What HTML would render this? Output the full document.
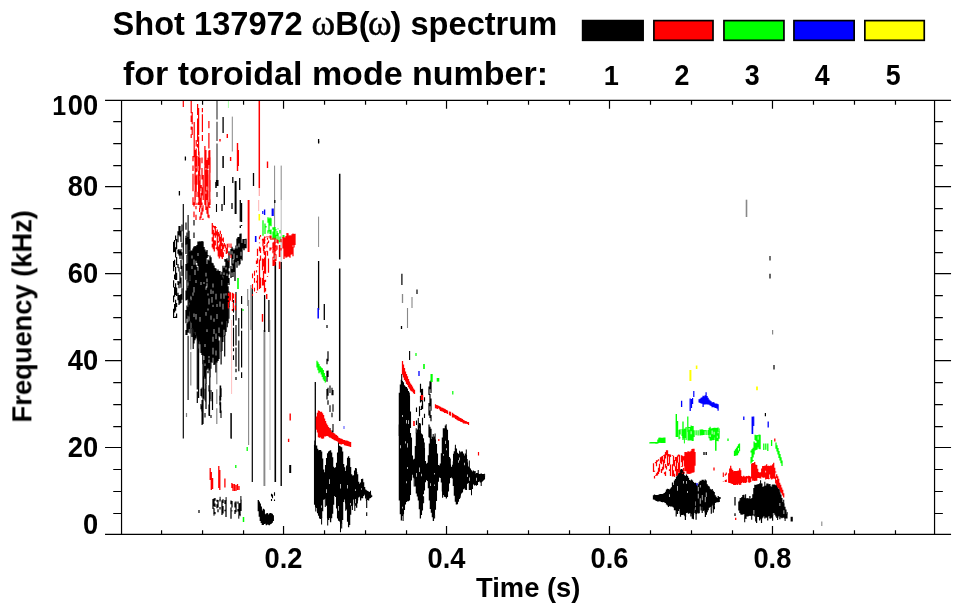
<!DOCTYPE html>
<html lang="en"><head><meta charset="utf-8"><title>Shot 137972 spectrum</title>
<style>
html,body{margin:0;padding:0;background:#fff;}
body{width:963px;height:615px;overflow:hidden;}
svg{display:block;}
</style></head>
<body>
<svg width="963" height="615" viewBox="0 0 963 615">
<rect width="963" height="615" fill="#fff"/>
<path d="M270.0 320.0V470.0M281.2 200.0V262.0" stroke="#bbb" stroke-width="1.0" fill="none"/>
<path d="M232.3 116.6V151.5M281.2 165.6V200.0M274.6 165.6V262.0M318.6 216.6V247.0" stroke="#888" stroke-width="1.0" fill="none"/>
<path d="M248.6 300.0V445.0M250.9 285.0V330.0M247.7 289.0V306.0M399.0 424.5V436.0M412.0 297.0V308.0M407.5 308.0V328.0M821.8 521.6V526.0" stroke="#888" stroke-width="1.1" fill="none"/>
<path d="M190.8 320.0V349.4M190.8 352.1V385.5M216.8 362.0V384.3M216.8 389.2V404.1M216.8 408.2V424.0M772.6 330.0V334.6" stroke="#888" stroke-width="1.2" fill="none"/>
<path d="M402.5 294.0V303.0" stroke="#888" stroke-width="1.3" fill="none"/>
<path d="M746.5 199.7V217.0" stroke="#888" stroke-width="1.6" fill="none"/>
<path d="M264.4 330.0V486.0" stroke="#888" stroke-width="1.9" fill="none"/>
<path d="M214.0 513.2V515.7M220.1 496.8V499.8M226.1 497.1V501.0M235.1 501.7V503.8M238.8 515.4V518.7M240.1 514.4V516.2M240.9 496.0V500.2" stroke="#000" stroke-width="1.0" fill="none"/>
<path d="M314.8 440.6V445.3M315.8 506.8V511.4M321.6 517.5V524.5M325.3 498.2V506.9M327.7 518.0V525.6M338.5 442.3V449.2M340.5 523.4V532.3M341.7 523.3V528.4M345.7 503.1V510.7M352.4 505.0V510.1M354.8 502.9V511.0M356.4 468.6V472.4M357.4 499.9V503.6M366.4 497.3V500.9M370.5 490.7V494.2M401.7 374.1V380.3M403.1 513.7V520.9M409.3 392.6V395.9M414.2 478.2V486.6M416.2 428.2V433.3M418.3 418.1V426.1M420.4 423.6V431.3M423.6 496.5V503.2M424.3 442.5V448.5M433.2 433.9V438.1M434.6 515.2V518.6M435.1 433.5V440.1M442.6 491.0V497.8M446.2 424.2V428.7M450.3 458.5V464.8M452.6 464.7V467.4M453.5 453.8V461.8M455.4 444.7V448.9M459.6 450.7V454.9M460.2 495.0V497.7M464.5 455.6V458.8M466.3 449.4V455.5M467.2 459.1V462.8M469.3 460.6V467.9M471.5 489.5V495.3M474.5 483.5V485.5M475.1 470.9V474.4M478.2 470.1V474.2M481.2 481.8V485.9M484.6 473.8V476.6M740.2 497.9V500.9M744.7 517.8V522.3M745.6 494.2V498.5M751.7 515.3V519.7M756.2 516.4V521.8M760.6 480.3V483.8M764.8 481.7V486.4M772.2 484.8V487.6M777.6 517.0V519.9M779.9 488.0V492.8M783.7 499.8V503.9M785.1 518.2V521.1M787.1 512.0V514.3" stroke="#000" stroke-width="1.04" fill="none"/>
<path d="M217.0 100.5V119.6M217.0 121.7V141.0M217.0 143.6V184.0" stroke="#000" stroke-width="1.05" stroke-opacity="0.85" fill="none"/>
<path d="M217.0 192.0V197.0M216.5 204.0V212.0M188.1 215.0V282.6M188.1 285.7V332.8M188.1 335.8V400.0M233.5 300.0V312.4M233.5 315.0V325.7M233.5 327.7V346.4M233.5 348.2V351.2M233.5 355.2V360.0M238.8 318.0V336.2M238.8 340.6V371.2M201.0 388.7V395.9M201.0 403.9V409.3M202.0 387.5V397.6M202.0 405.4V411.5M205.0 388.8V400.6M205.0 412.9V417.5M209.0 385.3V391.6M209.0 404.5V415.7M211.0 390.0V401.2M211.0 415.0V418.0M220.0 395.7V405.3M221.0 388.3V397.1M221.0 410.6V418.0M271.5 493.7V496.6M271.5 499.0V501.0M272.5 494.5V498.2M274.5 492.3V495.7M274.5 499.5V501.0M330.0 385.4V393.1M330.0 405.2V411.9M330.0 428.1V437.6M332.0 387.7V395.2M332.0 412.8V417.3M332.0 430.4V436.8M333.0 389.9V395.3M333.0 404.3V411.7M333.0 424.1V432.4M366.7 500.0V508.0M366.7 512.3V516.0M409.6 351.0V360.0M770.0 256.0V260.5" stroke="#000" stroke-width="1.1" fill="none"/>
<path d="M183.3 204.0V438.5M186.0 222.4V229.7M186.0 235.8V244.8M194.0 219.9V225.6M194.0 232.6V237.9M194.0 246.4V250.0M416.5 407.4V412.1M416.5 420.4V425.1M419.5 406.3V416.2M419.5 422.9V428.8M422.5 403.9V408.4M422.5 417.8V425.3M424.5 397.2V401.6M424.5 413.8V417.9" stroke="#000" stroke-width="1.15" fill="none"/>
<path d="M186.5 413.0V417.0" stroke="#000" stroke-width="1.2" stroke-opacity="0.5" fill="none"/>
<path d="M241.6 203.0V221.9M241.6 225.0V226.0M173.6 241.7V252.3M173.6 260.9V271.2M173.6 280.3V287.6M173.6 295.5V302.2M173.6 308.7V318.0M174.6 239.9V252.0M174.6 259.7V266.9M174.6 274.5V279.3M174.6 287.0V296.7M174.6 304.0V312.5M174.6 317.1V318.0M175.6 235.6V240.5M175.6 247.3V257.5M175.6 267.0V279.9M175.6 283.3V295.0M175.6 299.8V310.8M175.6 316.5V318.0M176.6 238.9V249.3M176.6 257.1V264.9M176.6 272.7V280.1M176.6 287.4V296.0M176.6 302.9V307.1M176.6 313.6V318.0M178.0 231.2V242.2M178.0 249.8V253.7M178.0 263.9V268.1M178.0 281.0V285.1M178.0 292.7V300.2M179.0 225.9V235.3M179.0 249.1V255.4M179.0 267.3V271.6M179.0 281.4V288.3M179.0 295.1V305.0M180.0 226.1V236.5M180.0 250.4V258.9M180.0 271.6V283.5M180.0 294.9V303.7M181.0 230.7V242.1M181.0 249.1V255.6M181.0 259.9V269.1M181.0 277.6V287.8M181.0 294.1V303.0M182.0 224.6V231.3M182.0 242.7V247.4M182.0 252.3V259.5M182.0 265.8V276.0M182.0 288.2V299.7M186.0 237.9V254.1M186.0 264.0V279.8M186.0 290.4V300.6M186.0 310.0V323.2M186.0 329.9V335.0M187.0 232.4V244.3M187.0 255.1V270.7M187.0 280.1V299.9M187.0 305.6V318.8M187.0 323.5V335.0M188.0 237.1V255.2M188.0 263.3V280.4M188.0 288.0V298.9M188.0 307.0V315.7M188.0 322.2V332.4M189.0 230.7V249.9M189.0 255.0V274.5M189.0 285.4V300.4M189.0 307.8V316.6M189.0 321.5V328.9M190.0 239.1V252.6M190.0 264.5V280.6M190.0 285.8V299.5M190.0 304.8V311.4M190.0 322.9V333.6M188.9 302.1V310.8M189.8 320.8V323.3M191.9 327.9V336.9M193.2 329.3V349.0M194.0 333.3V343.4M194.9 331.4V340.2M195.9 334.9V338.6M198.1 337.5V340.4M198.8 341.0V352.7M202.8 354.4V364.3M203.8 376.3V398.7M205.8 383.8V402.0M209.8 376.8V399.1M210.9 361.5V368.8M215.9 361.9V372.6M221.1 350.9V364.4M222.0 336.7V351.0M222.9 336.4V342.1M224.7 335.0V356.4M227.2 320.6V327.2M228.9 306.6V318.7M197.3 320.0V389.6M197.3 391.5V403.0M198.6 330.0V343.7M198.6 348.6V398.0M203.0 360.0V424.0M209.5 390.0V416.0M212.5 392.0V410.0M206.0 385.0V409.0M236.0 292.0V320.6M236.0 324.9V345.6M236.0 347.4V366.7M236.0 368.8V372.2M236.0 376.9V380.0M241.6 296.0V304.0M241.6 308.2V328.6M241.6 330.7V367.5M241.6 372.3V378.0M202.1 400.0V425.0M252.3 288.0V482.0M199.0 510.0V513.0M318.6 141.0V142.5M327.0 325.0V328.0M327.0 358.7V364.2M327.0 370.7V381.7M327.0 388.9V399.6M328.0 351.2V361.3M328.0 370.6V376.9M328.0 387.8V395.7M328.0 400.2V404.7M420.5 383.8V392.4M420.5 396.1V402.6M420.5 409.2V410.0M421.5 389.0V401.5M421.5 405.8V410.0M422.5 388.8V395.4M422.5 400.2V409.0M429.0 386.6V395.1M429.0 403.0V415.6M429.0 424.5V437.3M430.0 381.2V389.3M430.0 394.0V406.3M430.0 410.5V418.1M430.0 426.8V438.0M431.0 380.5V392.9M431.0 398.6V410.8M431.0 414.9V421.2M431.0 428.8V438.0M401.9 273.7V285.0M417.0 289.6V294.0M676.2 502.2V510.9M676.2 510.4V516.4M677.2 501.6V510.9M677.5 510.4V514.0M680.2 502.1V513.9M680.5 513.4V516.8M685.2 502.0V514.6M685.4 514.1V519.9M690.2 501.6V512.9M691.2 501.1V513.3M690.9 512.8V516.5M692.2 501.2V513.4M692.3 512.9V518.7M693.2 500.7V512.9M693.4 512.4V519.2M694.2 501.2V513.1M696.2 501.3V513.3M696.1 512.8V519.8M702.2 501.2V513.0M705.2 502.9V511.5M705.4 511.0V516.9M706.2 502.0V512.1M706.4 511.6V514.8M711.2 502.1V510.0M711.3 509.5V513.8M713.2 502.3V508.0M713.3 507.5V512.7M714.2 502.4V507.0M714.4 506.5V509.2M755.8 502.2V515.9M755.8 515.4V521.3M756.8 501.2V516.7M756.6 516.2V522.9M759.8 501.9V515.8M759.6 515.3V520.5M761.8 501.8V517.3M761.5 516.8V522.9M767.8 501.3V514.8M767.7 514.3V520.6M770.8 501.5V514.8M770.8 514.3V518.5M772.8 502.2V515.7M772.6 515.2V520.7M770.0 273.7V278.4M774.0 365.0V369.6M765.4 413.0V416.3" stroke="#000" stroke-width="1.2" fill="none"/>
<path d="M213.0 499.1V508.9M214.0 498.4V506.3M214.0 508.3V513.7M215.0 498.1V500.7M215.0 503.5V507.0M215.0 511.9V514.3M217.0 499.8V501.8M217.0 504.3V508.2M218.0 499.9V507.5M218.0 509.3V512.3M220.0 499.3V501.6M220.0 506.9V509.6M222.0 500.3V514.9M223.0 499.3V503.0M223.0 506.0V513.5M225.0 500.1V504.0M225.0 509.8V511.3M226.0 500.5V517.0M231.0 500.6V504.3M231.0 507.4V518.8M232.0 501.0V507.4M232.0 510.5V511.2M235.0 503.3V507.6M235.0 510.0V514.0M236.0 501.4V512.2M238.0 501.5V503.8M238.0 508.9V511.4M239.0 503.4V515.8M240.0 503.0V514.9M241.0 499.7V511.1M735.0 497.1V505.6M735.0 513.2V516.0" stroke="#000" stroke-width="1.25" fill="none"/>
<path d="M223.1 117.0V133.0M239.7 178.0V190.0M253.5 173.0V186.0M318.6 139.0V143.5M185.4 156.5V160.6M179.4 191.0V195.5M232.8 177.0V183.0M222.0 204.0V211.0M232.0 203.0V209.0M274.8 200.0V203.0M240.3 200.0V221.8M240.3 225.5V228.0M223.0 265.7V276.5M223.0 279.1V292.6M224.0 267.8V272.5M224.0 275.0V292.1M225.0 259.0V261.7M225.0 265.8V289.3M226.0 259.3V267.2M226.0 269.5V288.4M227.0 258.3V273.4M227.0 276.1V285.4M228.0 260.5V283.1M229.0 251.2V268.2M229.0 271.2V274.4M229.0 278.0V284.9M231.0 249.0V255.3M231.0 266.1V278.1M232.0 246.8V251.3M232.0 254.4V265.6M232.0 269.1V272.5M232.0 275.9V276.6M233.0 248.5V259.1M233.0 263.4V276.9M234.0 249.9V253.5M234.0 259.4V272.0M235.0 248.6V281.1M236.0 245.4V262.2M237.0 238.6V245.7M237.0 248.5V255.3M237.0 257.9V267.7M238.0 236.9V260.9M239.0 237.1V243.6M239.0 247.2V265.6M240.0 233.8V264.2M241.0 233.6V251.7M241.0 255.7V259.1M242.0 243.1V260.5M243.0 239.0V248.5M244.0 239.0V250.2M245.0 238.9V239.8M245.0 244.0V248.2M246.0 238.7V248.3M231.0 413.0V438.0M264.6 295.0V332.0M268.9 300.0V332.0M258.3 500.0V511.2M259.3 501.6V516.8M260.3 503.5V520.9M261.3 506.4V523.0M262.3 510.5V525.0M263.3 508.8V524.9M264.3 509.4V524.0M265.3 514.2V523.8M266.3 513.6V525.2M267.3 512.9V524.6M268.3 514.6V524.8M269.3 513.6V525.2M270.3 512.9V524.3M271.3 513.3V523.7M272.3 513.8V522.7M273.3 515.3V520.9M231.2 413.6V438.7M315.3 382.0V502.0M318.6 261.0V310.0M324.3 304.0V320.0M314.6 444.8V504.8M315.6 446.9V488.9M315.6 493.5V507.3M316.6 445.4V508.1M317.6 448.7V513.3M318.6 450.3V515.7M319.6 450.1V518.5M320.6 450.1V519.1M321.6 451.4V505.6M321.6 507.7V518.0M322.6 458.4V511.3M323.6 469.4V499.8M324.6 472.3V499.3M325.6 465.0V498.7M326.6 457.9V489.2M326.6 493.1V505.8M327.6 453.2V518.5M328.6 451.5V520.1M329.6 450.8V479.3M329.6 484.0V518.1M330.6 450.2V522.3M331.6 452.5V518.2M332.6 457.3V513.8M333.6 466.7V504.7M334.6 468.0V496.1M335.6 467.2V497.1M336.6 462.8V508.5M337.6 452.5V518.5M338.6 448.7V506.1M338.6 510.8V520.7M339.6 445.7V521.5M340.6 446.6V484.0M340.6 488.4V523.9M341.6 447.3V523.8M342.6 451.5V519.9M343.6 463.9V502.1M344.6 467.3V499.6M345.6 470.9V503.6M346.6 465.6V509.6M347.6 457.7V484.9M347.6 488.5V521.8M348.6 456.2V527.3M349.6 458.0V525.0M350.6 467.1V502.9M350.6 505.2V514.7M351.6 474.2V505.9M352.6 475.4V505.5M353.6 475.3V499.5M354.6 470.5V503.4M355.6 467.9V489.3M355.6 490.9V499.1M355.6 503.2V505.7M356.6 471.9V507.8M357.6 474.2V500.4M358.6 481.8V497.4M359.6 483.8V496.8M360.6 482.5V500.4M361.6 478.9V488.3M361.6 489.8V498.3M362.6 478.7V498.2M363.6 482.3V496.1M364.6 486.9V494.7M365.6 489.5V498.4M366.6 490.3V497.8M367.6 490.9V499.9M368.6 491.6V500.5M369.6 492.0V498.4M370.6 493.7V498.1M371.6 495.3V497.1M399.4 392.8V500.5M400.4 384.4V445.2M400.4 448.2V514.2M401.4 379.8V520.4M402.4 380.8V414.9M402.4 416.9V506.8M402.4 508.6V516.0M403.4 382.3V514.2M404.4 385.2V510.1M405.4 386.6V441.2M405.4 443.4V504.6M406.4 387.0V420.1M406.4 423.6V481.3M406.4 483.3V502.0M407.4 388.4V443.3M407.4 447.4V467.0M407.4 469.1V501.2M408.4 390.9V420.3M408.4 423.9V501.2M409.4 395.4V500.6M410.4 411.6V428.1M410.4 433.0V495.0M411.4 437.6V480.5M412.4 455.5V474.7M413.4 459.4V477.7M414.4 458.7V478.7M415.4 446.1V486.6M416.4 432.8V473.0M416.4 476.7V493.5M417.4 429.4V496.4M418.4 425.6V500.6M419.4 429.3V467.4M419.4 472.1V509.2M420.4 430.8V518.4M421.4 433.5V473.8M421.4 476.2V515.1M422.4 434.4V510.4M423.4 438.3V494.3M423.4 496.4V497.0M424.4 448.0V490.4M425.4 461.0V482.3M426.4 463.7V480.1M427.4 462.8V481.0M428.4 455.3V488.2M429.4 443.4V500.5M430.4 435.7V483.2M430.4 486.0V508.9M431.4 438.5V512.7M432.4 436.8V517.3M433.4 437.6V521.1M434.4 436.5V472.9M434.4 474.5V484.4M434.4 486.0V515.7M435.4 439.6V509.8M436.4 443.9V501.0M437.4 453.5V490.6M438.4 464.9V481.8M439.4 465.4V477.6M440.4 463.6V478.0M441.4 453.2V482.6M442.4 437.5V491.5M443.4 428.2V454.0M443.4 455.8V494.9M444.4 428.3V496.7M445.4 425.5V440.7M445.4 444.1V496.9M446.4 428.2V448.2M446.4 450.3V498.6M447.4 429.8V497.1M448.4 440.3V491.5M449.4 457.0V483.4M450.4 464.3V477.9M451.4 466.8V477.6M452.4 466.9V478.4M453.4 461.3V486.0M454.4 451.3V495.7M455.4 448.4V501.7M456.4 448.6V504.4M457.4 452.8V504.3M458.4 453.7V460.3M458.4 462.8V501.7M459.4 454.4V457.4M459.4 460.4V498.9M460.4 452.3V495.5M461.4 451.5V493.4M462.4 451.6V492.5M463.4 453.6V489.3M464.4 458.3V462.8M464.4 465.2V488.5M465.4 453.4V489.7M466.4 455.0V490.0M467.4 462.3V474.5M467.4 477.1V483.7M468.4 466.5V483.1M469.4 467.4V477.4M469.4 480.7V490.1M470.4 468.6V490.0M471.4 470.2V490.0M472.4 471.4V489.0M473.4 470.6V484.6M474.4 471.3V484.0M475.4 473.9V485.0M476.4 472.9V477.7M476.4 480.8V485.8M477.4 473.1V484.9M478.4 473.7V482.1M479.4 474.0V481.4M480.4 473.8V482.6M481.4 473.6V482.3M482.4 473.9V481.5M483.4 473.9V480.5M484.4 476.1V479.4M401.5 326.0V329.0M653.5 495.2V499.4M654.5 494.6V499.8M655.5 495.1V500.6M656.5 495.1V501.0M657.5 494.9V501.6M658.5 494.8V501.5M659.5 494.2V501.3M660.5 494.0V501.5M661.5 494.0V502.0M662.5 493.9V502.2M663.5 493.6V502.1M664.5 492.9V502.4M665.5 491.8V503.1M666.5 489.6V504.5M667.5 488.7V505.4M668.5 488.9V507.1M669.5 489.6V494.2M669.5 497.1V506.0M670.5 488.5V506.5M671.5 487.3V506.4M672.5 482.5V506.7M673.5 485.0V507.5M674.5 480.4V510.2M675.5 478.9V510.2M676.5 476.6V510.7M677.5 475.3V486.0M677.5 490.7V510.7M678.5 473.2V511.1M679.5 470.8V509.1M680.5 469.6V513.6M681.5 468.9V514.9M682.5 469.4V514.9M683.5 471.5V480.9M683.5 483.5V514.7M684.5 475.2V515.8M685.5 475.9V517.0M686.5 474.6V481.1M686.5 483.8V513.0M687.5 475.9V491.0M687.5 492.9V512.8M688.5 477.7V513.7M689.5 480.1V513.3M690.5 480.5V512.4M691.5 479.5V513.9M692.5 480.6V514.3M693.5 481.9V514.9M694.5 483.0V508.4M695.5 482.8V501.6M695.5 505.7V506.9M695.5 509.8V513.5M696.5 484.5V513.9M697.2 486.6V512.7M698.2 484.3V487.1M698.2 491.3V493.8M698.2 498.5V513.4M699.2 482.3V513.3M700.2 480.8V485.1M700.2 487.5V498.3M700.2 503.7V506.6M701.2 480.7V510.4M702.2 479.8V495.0M702.2 500.3V506.9M703.2 479.7V511.0M704.2 480.7V510.3M705.2 479.6V496.9M705.2 502.3V512.6M706.2 480.5V492.4M706.2 497.1V512.2M707.2 484.2V512.3M708.2 485.8V510.2M709.2 486.5V507.8M710.2 488.7V507.0M711.2 489.7V506.6M712.2 489.1V505.4M713.2 490.7V503.7M714.2 491.9V504.9M715.2 495.2V503.0M716.2 496.7V502.6M717.2 498.1V502.2M718.2 496.1V502.2M719.2 496.9V502.1M720.2 497.3V498.8M738.9 501.5V510.6M739.9 500.4V513.1M740.9 497.9V514.4M741.9 497.0V514.8M742.9 495.1V514.6M743.9 494.8V514.1M744.9 497.7V518.3M745.9 498.0V518.9M746.9 498.4V516.5M747.9 498.1V516.5M748.9 498.7V516.1M749.9 496.1V515.7M750.9 499.0V516.0M751.9 498.1V515.8M752.9 494.3V515.4M753.9 488.0V509.9M753.9 514.5V515.6M754.9 484.7V516.6M755.9 484.9V514.9M756.9 484.6V516.8M757.9 484.3V517.0M758.9 484.0V516.9M759.9 483.2V519.4M760.9 483.3V518.8M761.9 483.6V518.6M762.9 487.0V517.5M763.9 486.3V516.2M764.9 485.9V518.5M765.9 485.4V517.6M766.9 483.5V517.7M767.9 483.6V516.8M768.9 484.2V516.1M769.9 484.0V518.6M770.9 486.3V517.7M771.9 487.1V517.7M772.9 484.5V512.9M773.9 484.4V513.1M774.9 484.5V514.7M775.9 485.3V516.5M776.9 484.7V518.0M777.9 485.7V517.5M778.9 489.0V516.2M779.9 492.3V503.1M779.9 505.9V519.2M780.9 494.4V517.4M781.9 498.1V518.2M782.9 501.9V517.8M783.9 503.4V510.2M783.9 514.1V517.7M784.9 506.7V518.7M785.9 509.5V518.5M786.9 513.8V518.6M704.0 452.0V455.0M706.2 452.0V455.0" stroke="#000" stroke-width="1.3" fill="none"/>
<path d="M189.0 249.9V302.6M190.0 251.4V275.2M190.0 280.7V295.7M190.0 299.1V321.3M191.0 250.6V296.6M191.0 300.2V322.8M192.0 250.5V255.4M192.0 258.4V266.1M192.0 268.9V328.4M193.0 248.5V292.6M193.0 295.7V329.8M194.0 247.2V259.4M194.0 264.8V287.1M194.0 292.5V313.6M194.0 317.0V333.8M195.0 246.1V269.8M195.0 275.1V331.9M196.0 246.3V260.7M196.0 264.7V280.1M196.0 283.0V314.1M196.0 319.6V335.4M197.0 245.0V263.1M197.0 267.1V336.7M198.0 241.4V253.0M198.0 256.0V266.0M198.0 270.8V338.0M199.0 241.4V341.5M200.0 241.3V316.9M200.0 321.7V344.2M201.0 241.4V281.9M201.0 285.0V352.9M202.0 240.9V354.9M203.0 241.5V354.9M204.0 247.1V282.0M204.0 284.1V356.1M204.0 359.9V376.8M205.0 249.6V344.1M205.0 346.9V363.5M205.0 366.1V378.7M206.0 251.4V272.8M206.0 276.4V286.6M206.0 289.8V311.9M206.0 315.8V384.3M207.0 249.9V258.1M207.0 263.9V278.5M207.0 282.2V283.3M207.0 287.6V329.2M207.0 332.0V369.7M208.0 255.0V256.6M208.0 259.4V293.4M208.0 295.5V308.4M208.0 310.5V368.5M208.0 370.7V373.2M209.0 260.4V298.6M209.0 304.4V355.9M209.0 358.2V359.5M209.0 362.9V370.4M210.0 255.4V377.3M211.0 257.2V289.4M211.0 294.1V315.4M211.0 319.8V362.0M212.0 262.8V297.0M212.0 302.8V362.7M213.0 263.2V283.4M213.0 287.5V290.8M213.0 293.8V304.7M213.0 307.0V336.8M213.0 341.7V347.8M213.0 354.4V357.8M214.0 265.4V318.4M214.0 321.7V329.1M214.0 334.1V365.0M215.0 267.9V364.4M216.0 268.5V293.8M216.0 299.5V333.6M216.0 338.9V350.4M216.0 355.6V362.4M217.0 270.9V303.9M217.0 307.0V313.9M217.0 318.9V362.4M218.0 269.5V360.9M219.0 270.9V327.4M219.0 333.1V336.3M219.0 340.5V359.0M220.0 270.9V301.6M220.0 306.7V337.2M221.0 274.6V293.4M221.0 298.7V351.4M222.0 271.7V280.0M222.0 285.7V321.8M222.0 324.4V337.2M223.0 277.2V303.8M223.0 309.5V336.9M224.0 278.7V293.5M224.0 298.7V329.8M225.0 276.6V335.5M226.0 281.6V293.3M226.0 295.5V331.9M227.0 282.6V321.1M228.0 286.3V323.3M229.0 291.4V307.1" stroke="#000" stroke-width="1.35" fill="none"/>
<path d="M224.3 186.0V205.0M281.2 262.0V486.0" stroke="#000" stroke-width="1.4" fill="none"/>
<path d="M223.1 156.0V168.0M216.0 182.0V188.0M339.7 173.7V259.5M339.7 268.5V421.0" stroke="#000" stroke-width="1.5" fill="none"/>
<path d="M220.4 385.5V400.6M220.4 402.3V413.0M275.3 262.0V482.0" stroke="#000" stroke-width="1.6" fill="none"/>
<path d="M235.6 181.0V214.0M290.2 465.0V473.0" stroke="#000" stroke-width="2.0" fill="none"/>
<path d="M791.7 516.8V521.5" stroke="#000" stroke-width="2.2" fill="none"/>
<path d="M217.2 180.0V186.0" stroke="#000" stroke-width="2.6" fill="none"/>
<path d="M259.3 214.0V220.5M696.6 365.5V369.0" stroke="#ff0" stroke-width="1.6" fill="none"/>
<path d="M757.0 386.6V390.2" stroke="#ff0" stroke-width="1.8" fill="none"/>
<path d="M690.4 370.0V381.0" stroke="#ff0" stroke-width="2.0" fill="none"/>
<path d="M344.0 426.0V429.0" stroke="#00f" stroke-width="1.2" stroke-opacity="0.6" fill="none"/>
<path d="M262.8 211.0V214.0M691.5 399.0V408.0M692.6 398.0V404.0M693.8 391.0V397.0M753.7 416.6V426.0" stroke="#00f" stroke-width="1.2" fill="none"/>
<path d="M699.1 399.2V402.5M700.1 398.7V403.0M701.1 397.8V403.6M702.1 397.3V403.7M703.1 395.8V407.1M704.1 396.2V404.6M705.1 395.3V404.6M706.1 392.3V404.2M707.1 395.9V404.4M708.1 397.8V404.5M709.1 399.5V404.7M710.1 400.5V405.5M711.1 401.2V406.1M712.1 402.4V407.3M713.1 402.1V407.3M714.1 402.5V407.2M715.1 403.4V407.9M716.1 403.5V408.0M717.1 403.8V408.7M718.1 404.3V410.8" stroke="#00f" stroke-width="1.25" fill="none"/>
<path d="M419.0 371.0V376.0M681.6 400.7V407.0M690.2 398.5V411.0M768.2 421.5V427.6M743.8 416.6V420.0M697.0 483.0V485.5" stroke="#00f" stroke-width="1.3" fill="none"/>
<path d="M264.6 209.5V215.0" stroke="#00f" stroke-width="1.4" fill="none"/>
<path d="M318.2 308.0V318.6" stroke="#00f" stroke-width="1.5" fill="none"/>
<path d="M255.7 236.0V242.0" stroke="#00f" stroke-width="1.6" fill="none"/>
<path d="M752.4 416.6V434.0" stroke="#00f" stroke-width="1.7" fill="none"/>
<path d="M272.7 208.5V216.0" stroke="#00f" stroke-width="2.2" fill="none"/>
<path d="M684.4 438.4V443.4M719.2 428.4V432.1" stroke="#0f0" stroke-width="0.96" fill="none"/>
<path d="M228.4 101.0V108.0" stroke="#0f0" stroke-width="1" stroke-opacity="0.35" fill="none"/>
<path d="M243.0 309.0V311.0M452.8 391.0V394.6M416.0 353.0V356.0M677.6 421.0V437.0M679.1 429.7V439.3M680.1 429.2V434.4M680.1 437.4V438.3M682.1 428.9V436.0M683.1 429.8V438.0M684.1 428.7V438.9M685.1 428.6V438.0M686.1 427.0V440.1M688.1 426.8V440.4M689.1 426.9V428.0M689.1 429.8V440.4M690.1 427.0V440.6M691.1 425.6V431.3M691.1 434.3V440.3M692.1 425.9V440.9M693.1 426.0V441.0M694.1 430.2V436.9M696.1 430.2V435.3M698.1 430.2V435.6M700.1 429.6V435.4M701.1 429.5V435.3M702.1 429.3V435.3M703.1 429.8V435.1M704.1 429.9V435.0M705.1 430.2V431.2M706.1 429.9V435.0M708.1 430.0V435.1M709.1 428.1V438.3M710.1 426.7V434.8M710.1 437.1V440.6M711.1 428.6V440.8M712.1 428.2V430.4M712.1 434.3V440.2M713.1 428.1V440.3M714.1 427.8V431.8M714.1 434.7V440.1M715.1 427.8V437.6M716.1 427.9V441.1M717.1 427.8V435.7M717.1 438.0V441.0M718.1 427.5V431.7M718.1 433.3V441.2M719.1 431.6V438.7M687.8 416.5V432.0" stroke="#0f0" stroke-width="1.2" fill="none"/>
<path d="M263.0 220.2V235.8M265.0 223.5V234.1M266.0 226.0V227.6M268.0 217.3V222.7M268.0 230.3V233.4M269.0 218.6V231.4M270.0 217.5V225.4M270.0 230.0V234.0M271.0 218.2V226.2M271.0 229.4V234.5M273.0 227.3V229.7M273.0 231.5V239.1M274.0 227.3V238.5M275.0 227.1V239.1M276.0 229.2V230.6M276.0 234.7V239.7M277.0 231.0V235.9M278.0 228.6V229.2M278.0 232.9V240.5M279.0 240.4V242.5M280.0 230.0V233.4M280.0 236.6V241.8M317.0 360.7V367.6M318.0 362.3V370.2M319.0 363.9V373.2M320.3 366.3V372.3M321.3 367.4V374.5M322.3 368.3V377.0M323.3 369.9V379.4M324.3 372.9V381.0M325.3 376.0V382.6M649.9 442.2V443.4M650.9 442.1V443.4M651.9 442.1V443.4M652.9 442.0V443.4M653.9 442.0V443.4M654.9 442.0V443.5M655.9 442.0V443.7M656.9 441.9V443.7M657.9 439.6V443.5M658.9 437.8V442.9M659.9 437.5V442.8M660.9 437.7V443.0M661.9 437.8V442.9M662.9 437.7V442.9M663.9 437.6V442.9M664.9 437.5V442.9M734.5 450.8V456.0M735.5 449.2V455.8M736.5 447.8V455.6M737.5 446.3V455.2M738.5 444.2V448.1M738.5 450.4V453.3M739.5 443.5V451.3M751.1 450.6V452.6M751.1 457.0V463.4M752.1 449.1V462.0M753.1 447.7V457.6M753.1 460.0V460.9M754.1 441.5V454.5M755.1 434.7V440.0M755.1 442.7V450.5M756.1 435.2V441.1M756.1 443.0V449.9M757.1 434.9V449.6M758.1 435.2V436.3M758.1 439.7V447.5M759.1 434.5V448.9M760.1 434.7V449.2M763.8 443.6V449.9M765.8 443.5V449.8M767.8 443.4V450.9M776.0 442.6V448.7M777.0 445.3V451.6M778.0 448.1V454.6M779.0 450.9V458.0M780.0 453.9V460.6M781.0 457.2V463.3M782.0 460.4V466.0" stroke="#0f0" stroke-width="1.25" fill="none"/>
<path d="M235.8 465.0V468.0M247.2 447.0V451.0M683.0 421.5V440.0M728.0 438.5V441.0M771.6 440.0V446.0" stroke="#0f0" stroke-width="1.3" fill="none"/>
<path d="M676.3 414.0V437.0" stroke="#0f0" stroke-width="1.4" fill="none"/>
<path d="M243.5 517.0V522.0M715.8 436.0V450.7" stroke="#0f0" stroke-width="1.5" fill="none"/>
<path d="M238.0 278.0V289.0M424.0 364.0V369.0" stroke="#0f0" stroke-width="1.6" fill="none"/>
<path d="M283.5 235.0V238.0" stroke="#0f0" stroke-width="2" fill="none"/>
<path d="M431.6 374.0V382.0" stroke="#0f0" stroke-width="2.2" fill="none"/>
<path d="M438.0 378.0V381.6" stroke="#0f0" stroke-width="2.6" fill="none"/>
<path d="M231.6 320.0V394.0" stroke="#f00" stroke-width="1" stroke-opacity="0.25" fill="none"/>
<path d="M258.7 200.0V211.0" stroke="#f00" stroke-width="1" stroke-opacity="0.3" fill="none"/>
<path d="M229.0 243.6V247.5M229.0 253.3V255.5M229.0 261.5V262.0M231.0 243.6V247.9M231.0 254.4V258.1M252.5 273.6V278.3M252.5 283.9V288.9M252.5 294.0V296.0M254.5 270.7V275.8M254.5 278.1V282.7M254.5 287.8V291.4M273.0 246.9V252.1M273.0 256.7V265.9M274.0 243.0V250.1M274.0 253.0V257.7M274.0 260.1V266.0M275.0 242.1V247.6M275.0 250.1V255.2M275.0 258.9V265.5M276.0 245.3V251.1M276.0 254.3V261.0M723.3 472.6V477.0M723.3 481.5V482.0M725.3 473.8V475.8M725.3 480.1V482.0M726.3 472.4V474.8M726.3 479.4V482.0" stroke="#f00" stroke-width="1.1" fill="none"/>
<path d="M259.3 188.0V196.0" stroke="#f00" stroke-width="1.2" stroke-opacity="0.35" fill="none"/>
<path d="M183.3 101.0V107.0M191.2 100.5V113.2M191.2 115.5V122.1M191.2 126.6V129.8M191.2 134.2V138.0M192.2 112.0V124.3M192.2 126.8V135.0M194.2 122.0V157.3M195.2 150.0V200.0M196.2 140.0V146.4M196.2 148.4V166.6M196.2 168.2V172.3M196.2 175.6V191.8M197.6 104.0V115.1M197.6 118.4V141.7M197.6 144.1V147.4M198.6 108.0V134.9M198.6 136.5V154.9M198.6 157.0V166.1M198.6 170.7V197.7M198.6 202.2V205.0M199.6 160.0V165.5M199.6 168.9V176.0M199.6 180.5V204.5M199.6 208.1V212.0M202.4 108.0V112.2M202.4 114.2V132.1M202.4 135.0V141.0M203.2 175.0V200.0M204.9 146.0V165.1M204.9 167.1V204.0M205.9 150.0V168.0M205.9 169.8V191.4M205.9 193.7V210.0M206.9 160.0V186.4M206.9 190.2V200.0M207.9 170.0V202.1M207.9 206.8V214.0M208.9 121.0V128.2M208.9 132.9V148.4M208.9 150.6V165.0M209.8 150.0V203.6M209.8 206.4V208.0M201.2 185.0V188.3M201.2 192.9V203.9M193.0 156.0V161.3M193.0 165.6V171.0M193.0 173.7V191.3M193.0 197.2V205.0M195.0 154.7V168.6M195.0 172.7V184.5M195.0 191.1V205.0M197.0 156.0V171.6M197.0 174.4V184.8M197.0 191.7V196.9M197.0 202.7V205.0M199.0 151.6V161.3M199.0 164.4V173.9M199.0 181.6V194.0M199.0 198.1V205.0M200.0 157.8V169.5M200.0 174.7V191.3M200.0 197.8V205.0M202.0 157.4V163.3M202.0 167.9V179.6M202.0 187.3V195.6M202.0 202.4V205.0M205.0 153.2V160.8M205.0 163.1V170.9M205.0 178.4V194.3M205.0 197.0V205.0M208.0 157.7V168.7M208.0 174.5V187.8M208.0 190.9V196.7M208.0 201.1V205.0M210.0 157.3V172.7M210.0 180.0V191.8M210.0 199.3V204.9M194.0 202.3V206.5M194.0 211.5V217.3M196.0 206.1V209.2M196.0 214.8V220.0M200.0 205.2V208.4M200.0 216.4V220.0M201.0 203.0V207.6M201.0 212.2V218.3M202.0 207.8V214.8M202.0 219.4V220.0M203.0 205.2V211.4M203.0 218.4V220.0M207.0 206.5V213.8M208.0 200.2V206.5M208.0 211.6V217.4M209.0 202.3V207.6M209.0 214.8V218.3M478.5 452.0V455.5M438.8 439.0V441.0" stroke="#f00" stroke-width="1.2" fill="none"/>
<path d="M212.3 223.0V234.2M212.3 237.2V241.4M212.3 243.7V247.5M213.3 225.4V227.3M213.3 229.7V249.3M214.3 226.1V228.5M214.3 232.7V235.6M214.3 240.2V251.4M215.3 226.1V237.7M215.3 240.5V245.5M216.3 227.2V227.9M216.3 231.2V235.5M216.3 247.3V249.1M217.3 229.5V250.6M218.3 231.9V236.6M218.3 240.9V242.8M218.3 246.6V256.4M219.3 233.8V241.5M219.3 244.4V258.5M220.3 230.8V234.0M220.3 236.7V256.5M221.3 234.1V246.3M221.3 249.1V257.2M222.3 238.4V240.7M222.3 243.1V259.0M223.3 237.5V242.2M223.3 244.4V249.3M223.3 252.2V257.1M224.3 242.9V246.5M224.3 250.3V251.3M225.3 244.4V248.3M226.3 247.7V254.1M227.3 243.7V253.2M263.0 238.6V246.2M264.0 238.8V243.0M264.0 249.9V253.4M265.0 239.4V240.5M265.0 245.2V246.3M265.0 251.8V253.3M267.0 236.3V237.2M267.0 243.7V247.4M267.0 250.7V252.0M270.0 235.5V238.6M270.0 247.4V250.7M271.0 235.5V240.0M271.0 247.4V249.4M273.0 237.8V239.9M273.0 242.4V247.7M273.0 251.5V253.3M274.0 241.7V252.5M275.0 237.8V243.5M275.0 247.2V251.5M277.0 239.2V243.0M277.0 245.5V249.8M278.0 240.1V243.8M281.0 239.0V242.3M281.0 248.0V250.6M283.0 236.9V248.4M284.0 237.6V259.1M285.0 237.5V256.6M286.0 236.1V257.7M287.0 233.0V257.2M288.0 233.2V256.5M289.0 235.4V256.8M290.0 235.2V257.7M291.0 235.5V254.7M292.0 234.2V254.3M293.0 233.4V245.3M293.0 246.8V256.2M294.0 233.9V247.6M295.0 233.7V245.1M256.5 260.5V264.0M256.5 270.3V272.5M256.5 280.8V282.7M256.5 292.0V292.8M257.5 248.7V255.9M257.5 258.2V263.5M257.5 266.2V267.0M257.5 275.0V290.5M259.5 236.4V239.2M259.5 242.6V243.3M259.5 246.6V251.2M259.5 259.5V289.1M260.5 234.9V236.7M260.5 247.4V252.9M260.5 255.4V260.8M260.5 277.5V287.9M262.5 238.9V240.5M262.5 258.5V270.3M262.5 277.9V285.6M263.5 245.9V251.0M263.5 259.0V266.4M263.5 271.0V285.4M264.5 236.5V243.9M264.5 246.0V249.3M264.5 251.4V255.1M264.5 257.5V273.6M264.5 280.1V292.6M265.5 236.8V237.6M265.5 251.2V273.7M265.5 279.7V282.1M265.5 288.1V291.6M267.5 237.8V239.7M267.5 242.2V244.1M267.5 251.3V255.8M267.5 276.3V277.0M268.5 236.6V237.3M268.5 240.6V243.1M268.5 258.6V272.8M228.4 292.7V296.1M228.4 298.2V300.2M228.4 302.0V308.6M229.4 293.7V302.8M230.4 292.3V300.5M232.4 292.8V301.9M232.4 308.9V311.1M233.4 293.6V298.5M233.4 302.7V308.4M235.4 293.8V302.9M235.4 305.5V310.4M402.5 360.9V374.7M403.5 364.5V377.4M404.5 368.0V380.0M405.5 371.4V381.6M406.5 374.0V384.1M407.5 376.3V385.0M408.5 378.9V387.3M409.5 381.6V388.8M410.5 383.5V390.4M411.5 384.8V391.2M412.5 386.4V391.7M413.5 388.5V393.2M414.5 389.8V394.1M435.5 404.2V408.3M436.5 404.9V408.4M437.5 405.3V408.9M438.5 405.8V408.2M439.5 406.2V409.4M440.5 406.8V410.9M441.5 407.4V411.3M442.5 407.7V411.4M443.5 408.3V411.9M444.5 408.8V413.1M445.5 409.2V412.9M446.5 410.0V413.3M447.5 410.5V414.0M449.5 411.6V415.3M450.5 411.8V415.8M452.5 412.7V417.6M453.5 413.8V417.5M454.5 414.6V417.7M455.5 414.9V418.9M456.5 415.5V419.4M457.5 416.1V420.3M458.5 416.8V420.8M459.5 417.4V421.1M460.5 418.0V421.8M461.5 418.5V422.1M462.5 419.1V422.6M463.5 419.9V423.4M464.5 420.4V423.5M465.5 420.9V423.7M466.5 421.3V423.8M467.5 421.9V424.1M468.5 421.9V424.9M653.5 463.3V471.9M654.5 470.7V471.8M654.5 476.0V478.6M655.5 461.9V463.3M655.5 475.3V476.1M656.5 460.3V466.3M656.5 473.2V475.8M657.5 460.3V461.7M657.5 471.8V475.6M658.5 459.2V460.8M658.5 467.8V474.1M659.5 463.7V471.7M660.5 457.2V463.2M661.5 456.6V464.3M661.5 469.1V473.0M662.5 455.9V461.5M662.5 466.7V470.4M663.5 455.2V456.1M663.5 459.8V469.4M664.5 454.5V463.2M664.5 472.3V474.2M665.5 451.9V458.5M665.5 464.0V467.7M665.5 471.4V476.0M666.5 450.2V455.2M666.5 466.0V469.4M667.5 450.2V465.7M668.5 454.1V456.6M668.5 462.9V466.0M669.5 454.2V464.5M669.5 469.3V471.1M670.5 454.4V457.1M670.5 464.6V475.9M672.5 455.3V456.1M672.5 464.3V476.4M673.5 455.7V465.7M673.5 470.3V476.3M674.5 460.1V466.6M674.5 473.7V476.9M675.5 457.0V461.0M675.5 466.2V471.2M676.5 457.1V476.0M677.5 455.5V462.7M677.5 469.1V475.1M678.5 454.6V456.5M678.5 462.5V472.4M679.5 454.7V473.0M681.5 455.3V462.2M681.5 466.3V467.1M682.5 455.8V466.7M682.5 472.7V473.7M683.5 456.2V460.5M683.5 468.0V471.4M684.5 456.0V466.2M684.5 472.3V473.4M685.0 452.0V471.2M686.0 452.1V471.3M687.0 452.2V473.7M688.0 451.3V473.8M689.0 451.4V474.0M690.0 451.8V473.8M691.0 450.7V473.6M692.0 449.0V472.8M693.0 448.7V472.7M694.0 448.7V472.3M695.0 452.1V465.7M728.7 473.2V482.7M729.7 468.5V483.1M730.7 465.7V483.2M731.7 468.4V483.7M732.7 469.9V484.0M733.7 471.2V485.1M734.7 471.1V485.0M735.7 471.1V484.9M736.7 471.1V484.5M737.7 470.8V485.0M738.7 470.6V483.7M739.7 468.2V485.0M740.7 470.3V484.7M741.7 476.0V482.9M742.7 476.7V482.3M743.7 475.8V482.9M744.7 476.4V482.8M745.7 476.6V482.9M746.7 476.0V482.3M747.7 476.2V478.4M748.7 475.8V482.6M749.7 475.9V482.7M750.7 476.8V482.0M751.7 463.7V478.6M752.7 463.1V480.8M753.7 462.9V480.7M754.7 462.0V481.1M755.7 464.5V480.7M756.7 464.9V480.8M757.7 468.7V478.0M758.7 472.1V478.1M759.7 472.4V478.3M760.7 472.2V478.5M761.7 468.4V476.7M762.7 466.1V477.5M763.7 466.1V477.8M764.7 465.8V477.6M765.7 465.6V470.8M765.7 472.5V479.5M766.7 464.3V479.0M767.7 465.9V479.1M768.7 465.8V479.3M769.7 466.1V474.5M769.7 478.4V479.1M770.7 465.4V478.3M771.7 465.5V479.6M772.7 464.2V478.7M773.7 462.8V478.4M774.7 467.7V478.8M775.7 471.6V472.6M775.7 476.6V483.6M776.7 474.2V477.9M776.7 480.1V485.4M777.7 476.2V487.5M778.7 478.8V488.3M779.7 482.7V489.5M780.7 484.7V492.1M781.7 487.4V493.6M782.7 489.8V495.6M783.7 493.3V497.6" stroke="#f00" stroke-width="1.25" fill="none"/>
<path d="M210.2 468.0V480.0M211.3 472.0V490.0M212.6 478.0V489.0M218.8 466.0V488.0M219.8 470.0V490.0M224.9 478.5V487.6M231.9 483.0V488.0M233.0 484.0V491.0M234.5 484.0V491.0M236.0 485.0V491.0M237.5 484.0V490.0M239.0 486.0V490.0M714.0 467.5V470.5M735.7 517.8V520.0M774.8 438.5V441.5" stroke="#f00" stroke-width="1.3" fill="none"/>
<path d="M227.3 134.0V138.0M220.0 139.0V141.5M230.6 157.0V161.0M237.5 143.0V171.0M238.3 150.0V166.0M267.5 161.5V168.0M290.2 413.6V420.5M288.6 438.7V442.0M262.5 314.0V321.7M266.7 294.0V299.0M316.5 416.5V429.7M317.5 412.7V432.6M318.5 410.4V437.3M319.5 411.0V437.7M320.5 412.1V437.2M321.5 411.8V438.5M322.5 413.2V438.7M323.5 414.9V438.5M324.5 418.4V436.4M325.5 420.9V436.4M326.5 423.5V436.1M327.5 425.3V436.0M328.5 427.0V436.6M329.5 428.5V437.3M330.5 430.0V437.4M331.5 432.0V438.3M332.5 432.4V438.9M333.5 433.1V439.6M334.5 433.6V440.3M335.5 434.5V440.6M336.5 435.1V441.1M337.5 435.9V441.6M338.5 437.4V442.6M339.5 438.0V443.9M340.5 438.5V444.3M341.5 438.8V444.5M342.5 439.3V443.9M343.5 439.9V444.1M344.5 440.1V445.3M345.5 440.5V445.6M346.5 440.4V445.8M347.5 440.7V446.1M348.5 441.2V446.3M349.5 441.7V446.6M350.5 442.1V447.0" stroke="#f00" stroke-width="1.4" fill="none"/>
<path d="M259.3 100.5V188.0" stroke="#f00" stroke-width="1.5" fill="none"/>
<path d="M279.6 245.0V256.9M279.6 261.6V269.1M414.0 421.0V426.0" stroke="#f00" stroke-width="1.6" fill="none"/>
<path d="M248.6 200.0V252.0" stroke="#f00" stroke-width="1.9" fill="none"/>
<path d="M422.0 395.0V400.0" stroke="#f00" stroke-width="2.5" fill="none"/>
<path d="M121.54 100.45V534.43M934.55 100.45V534.43M121.54 100.45H934.55M121.54 534.43H934.55M121.54 534.45h-16.5M934.55 534.45h16.5M121.54 513.5h-8.3M934.55 513.5h8.3M121.54 491.5h-8.3M934.55 491.5h8.3M121.54 469.5h-8.3M934.55 469.5h8.3M121.54 447.5h-16.5M934.55 447.5h16.5M121.54 426.55h-8.3M934.55 426.55h8.3M121.54 404.55h-8.3M934.55 404.55h8.3M121.54 382.55h-8.3M934.55 382.55h8.3M121.54 360.55h-16.5M934.55 360.55h16.5M121.54 339.6h-8.3M934.55 339.6h8.3M121.54 317.6h-8.3M934.55 317.6h8.3M121.54 295.6h-8.3M934.55 295.6h8.3M121.54 273.6h-16.5M934.55 273.6h16.5M121.54 252.65h-8.3M934.55 252.65h8.3M121.54 230.65h-8.3M934.55 230.65h8.3M121.54 208.65h-8.3M934.55 208.65h8.3M121.54 186.65h-16.5M934.55 186.65h16.5M121.54 165.7h-8.3M934.55 165.7h8.3M121.54 143.7h-8.3M934.55 143.7h8.3M121.54 121.7h-8.3M934.55 121.7h8.3M121.54 100.45h-16.5M934.55 100.45h16.5M161.56 534.43v-4.2M161.56 100.45v4.2M202.56 534.43v-4.2M202.56 100.45v4.2M243.56 534.43v-4.2M243.56 100.45v4.2M283.54 534.43v-8.4M283.54 100.45v8.4M324.54 534.43v-4.2M324.54 100.45v4.2M365.54 534.43v-4.2M365.54 100.45v4.2M406.54 534.43v-4.2M406.54 100.45v4.2M446.52 534.43v-8.4M446.52 100.45v8.4M487.52 534.43v-4.2M487.52 100.45v4.2M528.52 534.43v-4.2M528.52 100.45v4.2M569.52 534.43v-4.2M569.52 100.45v4.2M609.5 534.43v-8.4M609.5 100.45v8.4M650.5 534.43v-4.2M650.5 100.45v4.2M691.5 534.43v-4.2M691.5 100.45v4.2M732.5 534.43v-4.2M732.5 100.45v4.2M772.48 534.43v-8.4M772.48 100.45v8.4M813.48 534.43v-4.2M813.48 100.45v4.2M854.48 534.43v-4.2M854.48 100.45v4.2M895.48 534.43v-4.2M895.48 100.45v4.2" stroke="#000" stroke-width="1.2" fill="none" stroke-linecap="butt"/>

<g stroke="#000" stroke-width="1.7">
<rect x="582.65" y="20.6" width="60.45" height="19.7" fill="#000"/>
<rect x="653.9" y="20.6" width="59.1" height="19.7" fill="#f00"/>
<rect x="723.95" y="20.6" width="60.0" height="19.7" fill="#0f0"/>
<rect x="793.95" y="20.6" width="60.2" height="19.7" fill="#00f"/>
<rect x="864.85" y="20.6" width="59.4" height="19.7" fill="#ff0"/>
</g>


<g font-family="'Liberation Sans', sans-serif" font-weight="bold" fill="#000" style="will-change:transform">
<text y="34.7" font-size="32.6"><tspan x="112.6">Shot 137972 </tspan><tspan x="311.4" y="34.9" font-size="35" font-weight="normal" font-family="'Liberation Serif', serif" stroke="#000" stroke-width="0.5" textLength="23.6" lengthAdjust="spacingAndGlyphs">ω</tspan><tspan x="335.3" y="34.7">B(</tspan><tspan x="368.0" y="34.9" font-size="35" font-weight="normal" font-family="'Liberation Serif', serif" stroke="#000" stroke-width="0.5" textLength="23.6" lengthAdjust="spacingAndGlyphs">ω</tspan><tspan x="390.6" y="34.7">) spectrum</tspan></text>
<text x="123.0" y="85.4" font-size="34">for toroidal mode number:</text>
<g>
<text transform="translate(611.3 84.9) scale(1.0 1)" text-anchor="middle" font-size="27.2">1</text>
<text transform="translate(682.0 85.1) scale(0.9 1)" text-anchor="middle" font-size="29.8">2</text>
<text transform="translate(752.3 85.1) scale(0.9 1)" text-anchor="middle" font-size="29.8">3</text>
<text transform="translate(822.1 85.1) scale(0.9 1)" text-anchor="middle" font-size="29.8">4</text>
<text transform="translate(893.3 85.1) scale(0.9 1)" text-anchor="middle" font-size="29.8">5</text>
</g>
<g>
<text transform="translate(98.2 115.3) scale(0.91 1)" text-anchor="end" font-size="30"><tspan font-size="27.4" dy="-0.3">1</tspan><tspan dy="0.3" dx="1.9">00</tspan></text>
<text transform="translate(98.2 196.3) scale(0.91 1)" text-anchor="end" font-size="30">80</text>
<text transform="translate(98.2 283.1) scale(0.91 1)" text-anchor="end" font-size="30">60</text>
<text transform="translate(98.2 370.2) scale(0.91 1)" text-anchor="end" font-size="30">40</text>
<text transform="translate(98.2 457.2) scale(0.91 1)" text-anchor="end" font-size="30">20</text>
<text transform="translate(98.2 534.3) scale(0.91 1)" text-anchor="end" font-size="30">0</text>
<text transform="translate(283.5 568.2) scale(0.925 1)" text-anchor="middle" font-size="29.5">0.2</text>
<text transform="translate(446.5 568.2) scale(0.925 1)" text-anchor="middle" font-size="29.5">0.4</text>
<text transform="translate(609.5 568.2) scale(0.925 1)" text-anchor="middle" font-size="29.5">0.6</text>
<text transform="translate(772.4 568.2) scale(0.925 1)" text-anchor="middle" font-size="29.5">0.8</text>
</g>
<text x="528.2" y="596.9" font-size="27.3" text-anchor="middle">Time (s)</text>
<text transform="translate(31.4 316.3) rotate(-90)" font-size="27.3" text-anchor="middle">Frequency (kHz)</text>
</g>

</svg>
</body></html>
